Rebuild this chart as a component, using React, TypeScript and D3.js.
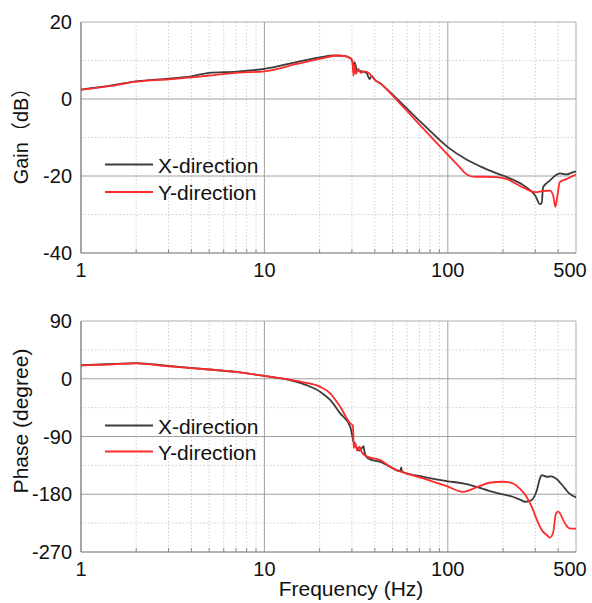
import React from "react";
import * as d3 from "d3";

// ---------- Data ----------
const gainFreqX = [1, 1.5, 2, 3, 4, 5, 7, 10, 15, 20, 24, 27, 29.5, 30.2, 30.6, 31, 32, 34, 36, 37.5, 38.5, 40, 43, 48.4, 57.3, 73.5, 100, 127, 150, 185, 210, 260, 300, 318, 325, 331, 360, 386, 408, 443, 470, 500];
const gainX = [2.45, 3.6, 4.6, 5.3, 5.9, 6.8, 7.1, 7.8, 9.6, 10.8, 11.3, 11.2, 10.6, 9.6, 7.3, 9.5, 7.5, 7.2, 6.8, 5.2, 6.0, 5.0, 4.0, 1.8, -1.6, -6.6, -12.5, -15.8, -17.5, -19.3, -20.3, -22.5, -25.1, -27.3, -27.0, -22.9, -21.2, -19.9, -19.3, -19.6, -19.2, -18.8];

const gainFreqY = [1, 1.5, 2, 3, 4, 5, 7, 10, 15, 20, 25, 28, 29.5, 30.2, 30.6, 31, 31.5, 32.5, 33.5, 35, 37, 40, 43, 48.4, 57.3, 73.5, 98.7, 115, 127, 140, 160, 185, 210, 260, 300, 330, 360, 375, 386, 395, 408, 443, 500];
const gainY = [2.45, 3.5, 4.5, 5.1, 5.6, 6.1, 6.8, 7.2, 9.1, 10.4, 11.3, 11.1, 10.5, 10.0, 6.0, 9.0, 6.5, 7.8, 6.8, 7.2, 6.8, 5.0, 4.0, 1.6, -2.1, -7.7, -14.2, -17.5, -19.6, -20.2, -20.2, -20.3, -20.8, -23.1, -24.2, -23.9, -23.8, -25.0, -28.0, -25.5, -21.6, -20.8, -19.6];

const phaseFreqX = [1, 1.5, 2, 3, 5, 7, 10, 13.8, 17, 20.2, 22.9, 25.9, 29.4, 30.6, 31.2, 32, 33, 34, 34.7, 35.2, 36, 38, 42.9, 48.4, 55, 55.7, 56.3, 73.5, 98.7, 121, 143, 168, 199, 226, 246, 265, 287, 300, 306, 318, 325, 346, 367, 389, 435, 459, 500];
const phaseX = [21, 23, 24.5, 20, 14.4, 10.6, 4.5, -2.3, -10, -20.5, -33.4, -54, -75, -98, -103, -108, -112, -108, -105, -115, -121.7, -126, -129.5, -137, -144, -138, -145, -152.8, -159.5, -163.2, -168.4, -174.6, -180.2, -183.9, -188, -191.7, -189, -180, -173.6, -155, -150.2, -152.7, -152, -155.3, -170.8, -178.6, -184.9];

const phaseFreqY = [1, 1.5, 2, 3, 5, 7, 10, 13.8, 17, 20.2, 22.9, 25.9, 29.4, 30.4, 30.7, 31.3, 32, 33, 34, 36, 42.9, 48.4, 73.5, 98.7, 121, 143, 168, 199, 226, 246, 265, 287, 306, 325, 346, 360, 375, 389, 400, 435, 459, 500];
const phaseY = [21, 22.5, 24, 19.5, 14.4, 10.6, 4.4, -1.2, -6.5, -12.7, -23, -43.8, -69.7, -73, -108, -100, -112, -106, -115, -121, -126.8, -137, -155.3, -167.3, -176.2, -169.3, -162.1, -160.5, -163.1, -170.8, -181.3, -199.6, -220, -235.7, -243.5, -247.5, -240, -209.8, -207, -225.3, -233.1, -233.7];

const xTicks = [1, 10, 100, 500];
const gainTicks = [20, 0, -20, -40];
const gainMinorTicks = [10, -10, -30];
const phaseTicks = [90, 0, -90, -180, -270];
const phaseMinorTicks = [45, -45, -135, -225];
const seriesNames = ["X-direction", "Y-direction"];
const seriesColors = ["#3c3c3c", "#ff2a2a"];

// ---------- Layout ----------
const W = 592;
const H = 603;
const FONT = "'Liberation Sans', Arial, 'Noto Sans CJK SC', sans-serif";

const x = d3.scaleLog().domain([1, 500]).range([81, 576]);
const minorX: number[] = [];
for (const dec of [1, 10, 100]) {
  for (let k = 2; k <= 9; k++) {
    const v = dec * k;
    if (v < 500) minorX.push(v);
  }
}

type PanelProps = {
  top: number;
  bottom: number;
  domain: [number, number];
  ticks: number[];
  minorTicks: number[];
  series: { f: number[]; v: number[] }[];
  yLabel: string;
  yLabelCenter: number;
  yLabelSize: number;
  legendY: [number, number];
};

function Panel(p: PanelProps) {
  const y = d3.scaleLinear().domain(p.domain).range([p.bottom, p.top]);
  const x0 = x.range()[0];
  const x1 = x.range()[1];
  const line = d3
    .line<[number, number]>()
    .x((d) => x(d[0]))
    .y((d) => y(d[1]))
    .curve(d3.curveMonotoneX);
  return (
    <g>
      {/* minor grid */}
      {minorX.map((v) => (
        <line key={"mx" + v} x1={x(v)} x2={x(v)} y1={p.top} y2={p.bottom} stroke="#c4c4c4" strokeWidth={0.8} strokeDasharray="1.5,2" />
      ))}
      {p.minorTicks.map((v) => (
        <line key={"my" + v} x1={x0} x2={x1} y1={y(v)} y2={y(v)} stroke="#c4c4c4" strokeWidth={0.8} strokeDasharray="1.5,2" />
      ))}
      {/* major grid */}
      {[10, 100].map((v) => (
        <line key={"Mx" + v} x1={x(v)} x2={x(v)} y1={p.top} y2={p.bottom} stroke="#a0a0a0" strokeWidth={1} />
      ))}
      {p.ticks.slice(1, -1).map((v) => (
        <line key={"My" + v} x1={x0} x2={x1} y1={y(v)} y2={y(v)} stroke="#a0a0a0" strokeWidth={1} />
      ))}
      {/* minor ticks at bottom */}
      {minorX.map((v) => (
        <line key={"tk" + v} x1={x(v)} x2={x(v)} y1={p.bottom} y2={p.bottom - 4} stroke="#777" strokeWidth={0.8} />
      ))}
      {/* frame */}
      <line x1={x0} x2={x1} y1={p.top} y2={p.top} stroke="#b0b0b0" strokeWidth={1} />
      <line x1={x1} x2={x1} y1={p.top} y2={p.bottom} stroke="#b0b0b0" strokeWidth={1} />
      <line x1={x0} x2={x0} y1={p.top} y2={p.bottom} stroke="#6a6a6a" strokeWidth={1.2} />
      <line x1={x0} x2={x1} y1={p.bottom} y2={p.bottom} stroke="#6a6a6a" strokeWidth={1.2} />
      {/* series */}
      {p.series.map((s, i) => (
        <path
          key={"s" + i}
          d={line(s.f.map((f, j) => [f, s.v[j]] as [number, number])) || ""}
          fill="none"
          stroke={seriesColors[i]}
          strokeWidth={1.8}
          strokeLinejoin="round"
        />
      ))}
      {/* y tick labels */}
      {p.ticks.map((v) => (
        <text key={"yl" + v} x={72} y={y(v) + 7} textAnchor="end" fontSize={20} fontFamily={FONT} fill="#111">
          {v}
        </text>
      ))}
      {/* x tick labels */}
      {xTicks.map((v) => (
        <text
          key={"xl" + v}
          x={x(v) + (v === 500 ? -6 : 0)}
          y={p.bottom + 24}
          textAnchor="middle"
          fontSize={20}
          fontFamily={FONT}
          fill="#111"
        >
          {v}
        </text>
      ))}
      {/* y label */}
      <text
        transform={`translate(28,${p.yLabelCenter}) rotate(-90)`}
        textAnchor="middle"
        fontSize={p.yLabelSize}
        fontFamily={FONT}
        fill="#111"
      >
        {p.yLabel}
      </text>
      {/* legend */}
      {seriesNames.map((n, i) => (
        <g key={"lg" + i}>
          <line x1={105} x2={153} y1={p.legendY[i] - 8} y2={p.legendY[i] - 8} stroke={seriesColors[i]} strokeWidth={1.8} />
          <text x={158} y={p.legendY[i]} fontSize={21} fontFamily={FONT} fill="#111">
            {n}
          </text>
        </g>
      ))}
    </g>
  );
}

export default function App() {
  return (
    <svg width={W} height={H} style={{ position: "absolute", left: 0, top: 0, background: "#fff" }}>
      <rect width={W} height={H} fill="#fff" />
      <Panel
        top={22}
        bottom={253}
        domain={[-40, 20]}
        ticks={gainTicks}
        minorTicks={gainMinorTicks}
        series={[
          { f: gainFreqX, v: gainX },
          { f: gainFreqY, v: gainY },
        ]}
        yLabel="Gain（dB）"
        yLabelCenter={131}
        yLabelSize={20}
        legendY={[172.5, 200]}
      />
      <Panel
        top={321}
        bottom={552}
        domain={[-270, 90]}
        ticks={phaseTicks}
        minorTicks={phaseMinorTicks}
        series={[
          { f: phaseFreqX, v: phaseX },
          { f: phaseFreqY, v: phaseY },
        ]}
        yLabel="Phase (degree)"
        yLabelCenter={421}
        yLabelSize={21}
        legendY={[433.5, 459.5]}
      />
      <text x={351} y={596} textAnchor="middle" fontSize={21} fontFamily={FONT} fill="#111">
        Frequency (Hz)
      </text>
    </svg>
  );
}
